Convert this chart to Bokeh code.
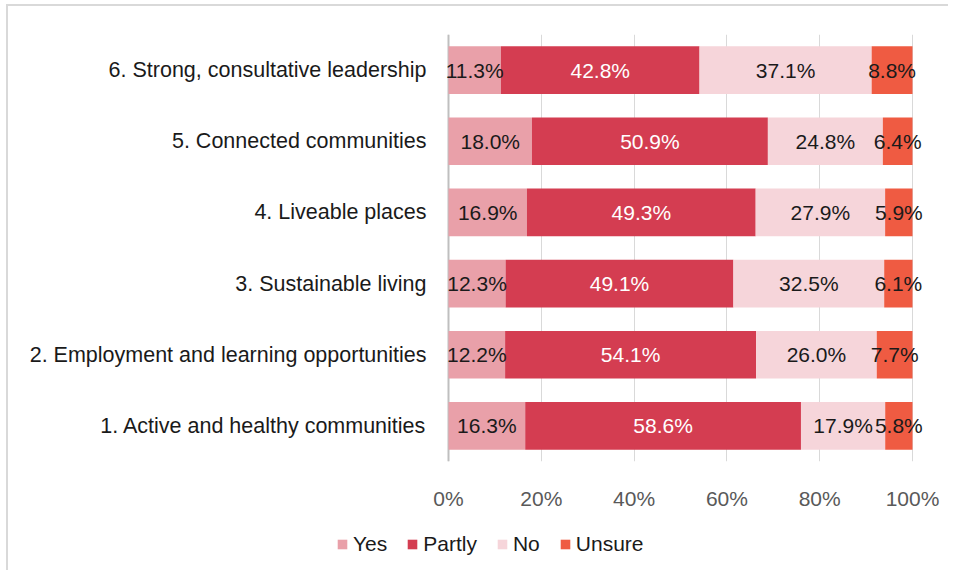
import numpy as np
from bokeh.plotting import figure
from bokeh.layouts import column
from bokeh.models import (ColumnDataSource, FactorRange, Range1d, FixedTicker,
                          NumeralTickFormatter, Legend, Span)
from bokeh.core.properties import value
from bokeh.embed import file_html
from bokeh.resources import INLINE

# ---- data ----
categories = [
    "1. Active and healthy communities",
    "2. Employment and learning opportunities",
    "3. Sustainable living",
    "4. Liveable places",
    "5. Connected communities",
    "6. Strong, consultative leadership",
]
series = ["Yes", "Partly", "No", "Unsure"]
yes_vals = [16.3, 12.2, 12.3, 16.9, 18.0, 11.3]
partly_vals = [58.6, 54.1, 49.1, 49.3, 50.9, 42.8]
no_vals = [17.9, 26.0, 32.5, 27.9, 24.8, 37.1]
unsure_vals = [5.8, 7.7, 6.1, 5.9, 6.4, 8.8]
x_ticks = [0, 0.2, 0.4, 0.6, 0.8, 1.0]

colors = ["#E9A0A9", "#D43D51", "#F6D5DA", "#EF5B42"]
label_colors = ["#1a1a1a", "#ffffff", "#1a1a1a", "#1a1a1a"]
FONT = "Liberation Sans"

vals = np.array([yes_vals, partly_vals, no_vals, unsure_vals], dtype=float)
totals = vals.sum(axis=0)
frac = vals / totals

data = {"cat": categories}
for name, f in zip(series, frac):
    data[name] = list(f)
source = ColumnDataSource(data)

W = 940
UNIT = 464.0          # pixels for 0..100 %
PAD_L, PAD_R = 10, 30  # extra frame room so edge labels are not clipped
p = figure(
    y_range=FactorRange(*categories, range_padding=0),
    x_range=Range1d(-PAD_L / UNIT, 1 + PAD_R / UNIT),
    width=W, height=506,
    output_backend="svg", toolbar_location=None,
    min_border_left=430, min_border_right=W - 430 - int(UNIT) - PAD_L - PAD_R,
    min_border_top=28, min_border_bottom=50,
)
p.frame_align = False

renderers = p.hbar_stack(series, y="cat", height=0.67, color=colors,
                         source=source, line_color=None)

# labels
cum = np.cumsum(frac, axis=0)
starts = cum - frac
for i, name in enumerate(series):
    centers = (starts[i] + cum[i]) / 2
    lsrc = ColumnDataSource({
        "x": list(centers), "y": categories,
        "t": [f"{v:.1f}%" for v in vals[i]],
    })
    p.text(x="x", y="y", text="t", source=lsrc, text_align="center",
           text_baseline="middle", text_font=value(FONT),
           text_font_size="21px", text_color=label_colors[i])

# axes
p.xaxis.ticker = FixedTicker(ticks=x_ticks)
p.xaxis.formatter = NumeralTickFormatter(format="0%")
p.xaxis.axis_line_color = None
p.xaxis.major_tick_line_color = None
p.xaxis.minor_tick_line_color = None
p.xaxis.major_label_text_font = FONT
p.xaxis.major_label_text_font_size = "21px"
p.xaxis.major_label_text_color = "#595959"
p.xaxis.major_label_standoff = 19

p.yaxis.axis_line_color = None
p.yaxis.major_tick_line_color = None
p.yaxis.minor_tick_line_color = None
p.yaxis.major_label_text_font = FONT
p.yaxis.major_label_text_font_size = "21.5px"
p.yaxis.major_label_text_color = "#1a1a1a"
p.yaxis.major_label_standoff = 6

p.xgrid.grid_line_color = "#d9d9d9"
p.xgrid.grid_line_width = 1
p.ygrid.grid_line_color = None
p.outline_line_color = None
p.add_layout(Span(location=0, dimension="height", line_color="#bfbfbf",
                  line_width=2, level="underlay"))

# legend figure below the chart (hidden copies of the stacked bars as legend handles)
pl = figure(
    width=W, height=58, x_range=Range1d(0, 1),
    y_range=FactorRange(*categories),
    x_axis_type=None, y_axis_type=None,
    output_backend="svg", toolbar_location=None,
    min_border=0, min_border_left=0, min_border_right=0,
    min_border_top=0, min_border_bottom=0,
)
pl.frame_align = False
pl.grid.visible = False
pl.outline_line_color = None
leg_renderers = pl.hbar_stack(series, y="cat", height=0.67, color=colors,
                              source=source, line_color=None)
for r in leg_renderers:
    r.visible = False
legend = Legend(
    items=[(s, [r]) for s, r in zip(series, leg_renderers)],
    orientation="horizontal",
    location=(328, 14),
    click_policy="none",
    label_text_font=FONT, label_text_font_size="21px", label_text_color="#1a1a1a",
    glyph_width=12, glyph_height=12, label_standoff=5, spacing=19,
    padding=0, margin=0, border_line_color=None, background_fill_alpha=0,
    inactive_fill_alpha=0,
)
pl.add_layout(legend, "center")

layout = column(p, pl, spacing=0)
layout.styles = {
    "margin-top": "4px", "margin-left": "6px",
    "border-top": "2px solid #d9d9d9", "border-left": "2px solid #d9d9d9",
}

open("out.html", "w").write(file_html(layout, INLINE))
